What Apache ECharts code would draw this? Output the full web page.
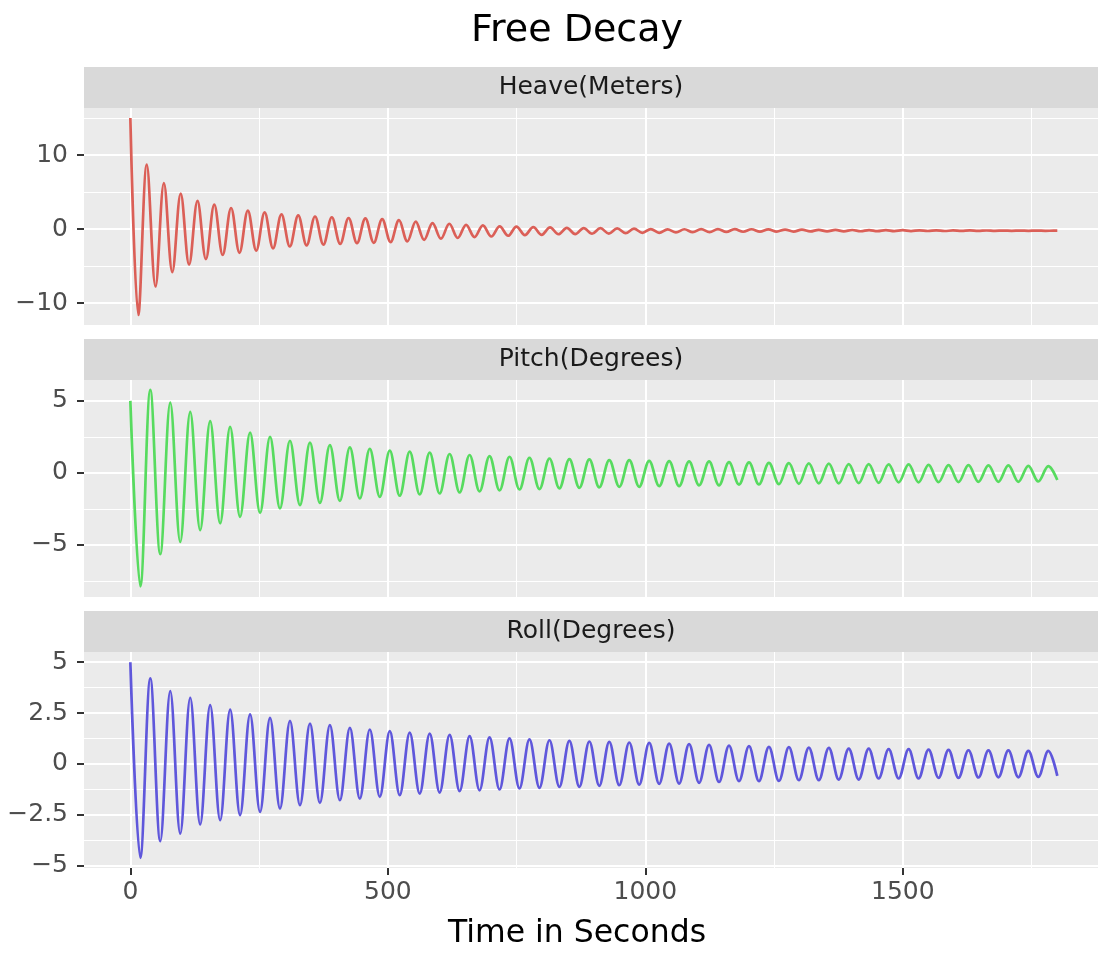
<!DOCTYPE html>
<html>
<head>
<meta charset="utf-8">
<script src="https://cdn.jsdelivr.net/npm/echarts@6/dist/echarts.min.js"></script>
<style>
html,body{margin:0;padding:0;background:#fff;}
#chart{width:1099px;height:953px;}
</style>
</head>
<body>
<div id="chart"></div>
<script>
// ---------- DATA (extrema of each oscillation) ----------
const panelTitles = ['Heave(Meters)', 'Pitch(Degrees)', 'Roll(Degrees)'];
const chartTitle = 'Free Decay';
const xTitle = 'Time in Seconds';

const xMajorTicks = [0, 500, 1000, 1500];
const xMinorTicks = [250, 750, 1250, 1750];

const heaveMajorTicks = [-10, 0, 10];
const heaveMinorTicks = [-5, 5, 15];
const pitchMajorTicks = [-5, 0, 5];
const pitchMinorTicks = [-7.5, -2.5, 2.5];
const rollMajorTicks = [-5, -2.5, 0, 2.5, 5];
const rollMinorTicks = [-3.75, -1.25, 1.25, 3.75];

const heaveT = [0, 15.5, 31.9, 48.9, 65.2, 81.5, 97.8, 114.1, 130.4, 146.7,
  163, 179.3, 195.6, 211.9, 228.2, 244.5, 260.8, 277.1, 293.4, 309.7,
  326, 342.3, 358.6, 374.9, 391.2, 407.5, 423.8, 440.1, 456.4, 472.7,
  489, 505.3, 521.6, 537.9, 554.2, 570.5, 586.8, 603.1, 619.4, 635.7,
  652, 668.3, 684.6, 700.9, 717.2, 733.5, 749.8, 766.1, 782.4, 798.7,
  815, 831.3, 847.6, 863.9, 880.2, 896.5, 912.8, 929.1, 945.4, 961.7,
  978, 994.3, 1010.6, 1026.9, 1043.2, 1059.5, 1075.8, 1092.1, 1108.4, 1124.7,
  1141, 1157.3, 1173.6, 1189.9, 1206.2, 1222.5, 1238.8, 1255.1, 1271.4, 1287.7,
  1304, 1320.3, 1336.6, 1352.9, 1369.2, 1385.5, 1401.8, 1418.1, 1434.4, 1450.7,
  1467, 1483.3, 1499.6, 1515.9, 1532.2, 1548.5, 1564.8, 1581.1, 1597.4, 1613.7,
  1630, 1646.3, 1662.6, 1678.9, 1695.2, 1711.5, 1727.8, 1744.1, 1760.4, 1776.7,
  1793, 1800];
const heaveV = [15, -11.6, 8.7, -7.75, 6.2, -5.8, 4.8, -4.8, 3.8, -4.05,
  3.3, -3.5, 2.85, -3.2, 2.5, -2.9, 2.25, -2.6, 2.0, -2.35,
  1.85, -2.2, 1.7, -2.1, 1.6, -2.0, 1.5, -1.9, 1.45, -1.85,
  1.35, -1.75, 1.2, -1.65, 1.0, -1.45, 0.8, -1.3, 0.72, -1.2,
  0.58, -1.08, 0.5, -1.0, 0.36, -0.9, 0.34, -0.81, 0.27, -0.77,
  0.23, -0.7, 0.16, -0.68, 0.14, -0.63, 0.12, -0.6, 0.09, -0.55,
  0.05, -0.5, 0.0, -0.5, -0.04, -0.45, -0.02, -0.42, 0.0, -0.4,
  0.0, -0.38, -0.01, -0.36, -0.02, -0.35, -0.04, -0.34, -0.06, -0.33,
  -0.08, -0.32, -0.1, -0.31, -0.11, -0.3, -0.12, -0.29, -0.13, -0.28,
  -0.14, -0.27, -0.15, -0.27, -0.16, -0.26, -0.17, -0.26, -0.18, -0.25,
  -0.18, -0.25, -0.19, -0.24, -0.2, -0.24, -0.2, -0.23, -0.21, -0.23,
  -0.22, -0.22];

const pitchRollT = [0, 19.4, 38.8, 58.1, 77.5, 96.9, 116.3, 135.6, 155, 174.4,
  193.8, 213.1, 232.5, 251.9, 271.3, 290.6, 310, 329.4, 348.8, 368.1,
  387.5, 406.9, 426.3, 445.6, 465, 484.4, 503.8, 523.1, 542.5, 561.9,
  581.3, 600.6, 620, 639.4, 658.8, 678.1, 697.5, 716.9, 736.3, 755.6,
  775, 794.4, 813.8, 833.1, 852.5, 871.9, 891.3, 910.6, 930, 949.4,
  968.8, 988.1, 1007.5, 1026.9, 1046.3, 1065.6, 1085, 1104.4, 1123.8, 1143.1,
  1162.5, 1181.9, 1201.3, 1220.6, 1240, 1259.4, 1278.8, 1298.1, 1317.5, 1336.9,
  1356.3, 1375.6, 1395, 1414.4, 1433.8, 1453.1, 1472.5, 1491.9, 1511.3, 1530.6,
  1550, 1569.4, 1588.8, 1608.1, 1627.5, 1646.9, 1666.3, 1685.6, 1705, 1724.4,
  1743.8, 1763.1, 1782.5, 1800];

const pitchV = [5.0, -7.88, 5.76, -5.65, 4.88, -4.8, 4.23, -3.98, 3.6, -3.5,
  3.2, -3.05, 2.8, -2.78, 2.5, -2.47, 2.23, -2.24, 2.1, -2.08,
  1.93, -1.94, 1.77, -1.78, 1.66, -1.66, 1.54, -1.59, 1.47, -1.5,
  1.4, -1.43, 1.31, -1.36, 1.24, -1.29, 1.17, -1.22, 1.12, -1.15,
  1.05, -1.13, 1.0, -1.08, 0.96, -1.04, 0.94, -1.01, 0.89, -0.97,
  0.89, -0.97, 0.84, -0.92, 0.82, -0.92, 0.8, -0.87, 0.8, -0.87,
  0.74, -0.81, 0.73, -0.8, 0.7, -0.78, 0.68, -0.76, 0.66, -0.73,
  0.64, -0.73, 0.61, -0.71, 0.61, -0.69, 0.59, -0.66, 0.59, -0.66,
  0.56, -0.64, 0.54, -0.64, 0.54, -0.62, 0.52, -0.62, 0.52, -0.62,
  0.49, -0.6, 0.47, -0.5];

const rollV = [5, -4.62, 4.2, -3.8, 3.58, -3.43, 3.25, -2.98, 2.89, -2.77,
  2.67, -2.52, 2.43, -2.36, 2.26, -2.2, 2.11, -2.03, 1.98, -1.92,
  1.9, -1.79, 1.77, -1.71, 1.69, -1.62, 1.61, -1.54, 1.54, -1.46,
  1.49, -1.41, 1.43, -1.34, 1.36, -1.3, 1.3, -1.26, 1.25, -1.21,
  1.2, -1.18, 1.16, -1.13, 1.13, -1.13, 1.1, -1.08, 1.08, -1.05,
  1.05, -1.02, 1.03, -0.98, 1.0, -0.97, 0.97, -0.93, 0.93, -0.89,
  0.9, -0.85, 0.87, -0.85, 0.84, -0.84, 0.82, -0.8, 0.8, -0.8,
  0.79, -0.77, 0.75, -0.77, 0.75, -0.72, 0.72, -0.72, 0.72, -0.72,
  0.7, -0.69, 0.69, -0.69, 0.67, -0.67, 0.66, -0.66, 0.66, -0.66,
  0.64, -0.64, 0.64, -0.59];

// ---------- STYLE / LAYOUT ----------
const FONT = '"DejaVu Sans", sans-serif';
const colors = ['#db5f57', '#57db5f', '#5f57db'];
const X_MIN = -90, X_MAX = 1879;
const panels = [
  {top: 108, height: 217, min: -12.95, max: 16.35, major: heaveMajorTicks, minor: heaveMinorTicks, t: heaveT, v: heaveV},
  {top: 380, height: 217, min: -8.62, max: 6.45, major: pitchMajorTicks, minor: pitchMinorTicks, t: pitchRollT, v: pitchV},
  {top: 652, height: 216, min: -5.12, max: 5.5, major: rollMajorTicks, minor: rollMinorTicks, t: pitchRollT, v: rollV}
];
const LEFT = 84, RIGHT = 1, STRIP_H = 41;
const fmt = v => (v < 0 ? '\u2212' + String(Math.abs(v)) : String(v));

const grids = [], xAxes = [], yAxes = [], series = [], graphics = [];
panels.forEach((p, g) => {
  grids.push({left: LEFT, right: RIGHT, top: p.top, height: p.height, show: true,
    backgroundColor: '#EBEBEB', borderWidth: 0, containLabel: false});
  const bottom = g === panels.length - 1;
  // major x
  xAxes.push({gridIndex: g, type: 'value', min: X_MIN, max: X_MAX, position: 'bottom',
    axisLine: {show: false, onZero: false},
    axisTick: {show: bottom, customValues: xMajorTicks, length: 7, lineStyle: {color: '#333333', width: 2}},
    axisLabel: {show: bottom, customValues: xMajorTicks, formatter: fmt, color: '#4D4D4D', fontSize: 25, fontFamily: FONT, margin: 12},
    splitLine: {show: true, lineStyle: {color: '#FFFFFF', width: 2}}});
  // minor x
  xAxes.push({gridIndex: g, type: 'value', min: X_MIN, max: X_MAX, position: 'top',
    axisLine: {show: false, onZero: false},
    axisTick: {show: false, customValues: xMinorTicks},
    axisLabel: {show: false, customValues: xMinorTicks},
    splitLine: {show: true, lineStyle: {color: '#FFFFFF', width: 1}}});
  // major y
  yAxes.push({gridIndex: g, type: 'value', min: p.min, max: p.max, position: 'left',
    axisLine: {show: false, onZero: false},
    axisTick: {show: true, customValues: p.major, length: 7, lineStyle: {color: '#333333', width: 2}},
    axisLabel: {show: true, customValues: p.major, formatter: fmt, color: '#4D4D4D', fontSize: 25, fontFamily: FONT, margin: 16},
    splitLine: {show: true, lineStyle: {color: '#FFFFFF', width: 2}}});
  // minor y
  yAxes.push({gridIndex: g, type: 'value', min: p.min, max: p.max, position: 'right',
    axisLine: {show: false, onZero: false},
    axisTick: {show: false, customValues: p.minor},
    axisLabel: {show: false, customValues: p.minor},
    splitLine: {show: true, lineStyle: {color: '#FFFFFF', width: 1}}});

  series.push({type: 'line', name: panelTitles[g], xAxisIndex: 2 * g, yAxisIndex: 2 * g,
    data: p.t.map((t, i) => [t, p.v[i]]),
    showSymbol: false, smooth: 0.36, z: 5,
    lineStyle: {color: colors[g], width: 2.7}, itemStyle: {color: colors[g]}});

  // facet strip
  graphics.push({type: 'rect', left: LEFT, top: p.top - STRIP_H,
    shape: {width: 1099 - LEFT - RIGHT, height: STRIP_H}, style: {fill: '#D9D9D9'}, silent: true});
  graphics.push({type: 'text', x: LEFT + (1099 - LEFT - RIGHT) / 2, y: p.top - STRIP_H / 2,
    style: {text: panelTitles[g], fill: '#1A1A1A', font: '25px ' + FONT, textAlign: 'center', textVerticalAlign: 'middle'}, silent: true});
});

graphics.push({type: 'text', x: 577, y: 31,
  style: {text: chartTitle, fill: '#000000', font: '38px ' + FONT, textAlign: 'center', textVerticalAlign: 'middle'}});
graphics.push({type: 'text', x: 577, y: 934,
  style: {text: xTitle, fill: '#000000', font: '31.5px ' + FONT, textAlign: 'center', textVerticalAlign: 'middle'}});

const chart = echarts.init(document.getElementById('chart'), null, {renderer: 'canvas', width: 1099, height: 953});
chart.setOption({
  animation: false,
  backgroundColor: '#FFFFFF',
  grid: grids,
  xAxis: xAxes,
  yAxis: yAxes,
  series: series,
  graphic: graphics
});
</script>
</body>
</html>
